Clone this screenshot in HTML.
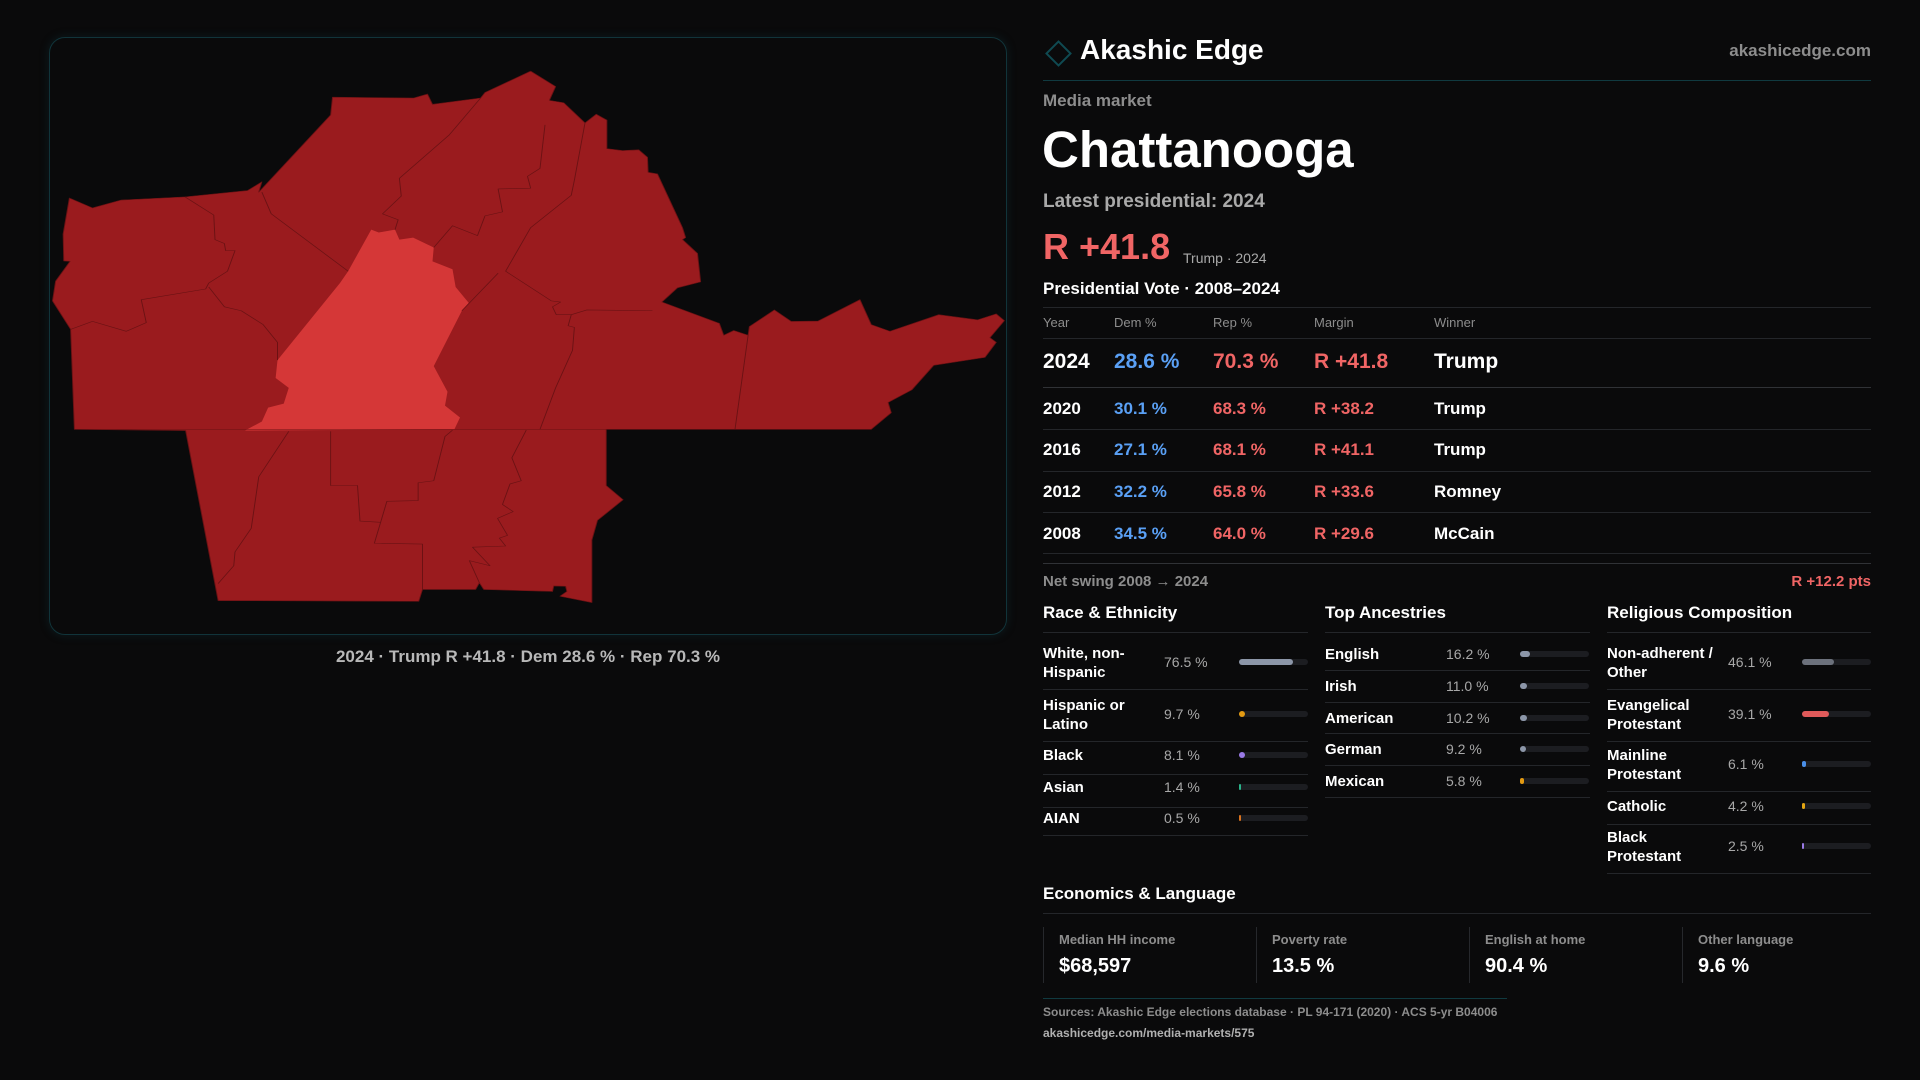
<!DOCTYPE html>
<html><head><meta charset="utf-8">
<style>
*{margin:0;padding:0;box-sizing:border-box}
body{width:1920px;height:1080px;background:#0a0a0b;font-family:"Liberation Sans",sans-serif;color:#fff;position:relative;overflow:hidden}
.a{position:absolute;white-space:nowrap;line-height:1}
.panel{position:absolute;left:49px;top:37px;width:958px;height:598px;border:1.5px solid #11343a;border-radius:16px;box-shadow:0 0 10px rgba(20,80,90,.25)}
.hl{position:absolute;height:1px;background:#24262a}
.g{color:#8d8d8d}
.red{color:#f06565}.blue{color:#5aa0f5}
.bar{position:absolute;height:6px;border-radius:3px;background:#1c1d21}
.bar i{position:absolute;left:0;top:0;height:6px;border-radius:3px}
.lbl{position:absolute;font-size:15px;font-weight:bold;line-height:19px}
.val{position:absolute;font-size:14px;color:#a8a8a8;line-height:1}
.vb{position:absolute;width:1px;background:#26282c}
</style></head><body>
<div class="panel"></div>
<svg style="position:absolute;left:40px;top:30px" width="980" height="620" viewBox="0 0 1568 1568" preserveAspectRatio="none">
<g stroke="#6a1214" stroke-width="1.5" stroke-linejoin="round" vector-effect="non-scaling-stroke">
<polygon fill="#9a1b1e" points="468,170 598,172 620,162 628,188 705,172 712,158 785,104 825,143 815,178 838,184 872,235 890,213 907,228 907,300 932,305 958,303 972,322 973,360 988,364 1028,500 1033,525 1028,530 1052,565 1057,637 1020,652 995,688 1087,742 1094,772 1110,760 1133,772 1135,750 1175,708 1202,737 1245,736 1312,682 1330,745 1360,762 1438,720 1500,733 1530,718 1543,735 1520,778 1530,790 1512,828 1430,848 1395,910 1357,942 1362,968 1330,1010 906,1010 906,1152 933,1188 892,1240 883,1290 883,1448 832,1432 843,1420 841,1407 822,1406 820,1420 710,1415 703,1398 697,1415 612,1415 606,1445 285,1443 233,1013 55,1010 49,757 20,685 25,635 48,585 38,584 37,516 47,425 84,450 130,430 232,422 332,406 355,384 350,410 465,215"/>
<polygon fill="#d53737" stroke="none" points="530,505 542,512 568,505 575,530 597,525 630,550 628,585 660,605 665,650 678,675 686,690 675,710 630,850 652,915 648,950 672,980 663,1010 328,1013 355,990 365,955 390,945 398,905 377,880 380,835 480,640 493,610"/>
<g fill="none">
<polyline points="232,422 278,468 280,530 295,540 297,558 312,558 300,610 270,640 265,655 162,682 170,740 138,762 84,737 49,757"/>
<polyline points="270,650 295,700 322,710 357,745 380,790 380,835"/>
<polyline points="355,410 370,465 493,610"/>
<polyline points="705,172 655,265 575,375 578,420 548,465 573,480 568,505"/>
<polyline points="808,240 800,350 780,370 785,400 733,402 740,460 712,470 700,520 660,495 630,550"/>
<polyline points="872,235 855,380 850,418 785,500 745,610 818,685 833,688 820,700 826,720 850,720 845,748 855,752 852,810 825,905 800,1010"/>
<polyline points="733,615 675,710"/>
<polyline points="980,710 875,708 850,720"/>
<polyline points="1133,772 1112,1010"/>
<polyline points="55,1010 1330,1010"/>
<polyline points="398,1015 350,1130 338,1260 312,1320 310,1355 285,1400"/>
<polyline points="465,1015 465,1152 508,1152 512,1242 545,1245 535,1298 612,1300 612,1415"/>
<polyline points="660,1012 648,1028 630,1140 605,1145 605,1190 555,1192 545,1245"/>
<polyline points="778,1012 755,1082 770,1140 752,1148 740,1200 757,1218 732,1235 748,1278 735,1285 745,1305 692,1308 720,1355 687,1342 703,1398"/>
</g></g>
</svg>
<div class="a" style="left:528px;top:648px;transform:translateX(-50%);font-size:17px;color:#b8b8b8;font-weight:bold">2024 · Trump R +41.8 · Dem 28.6 % · Rep 70.3 %</div>

<div class="a" style="left:1049px;top:44px;width:19px;height:19px;border:2px solid #0f4a52;transform:rotate(45deg)"></div>
<div class="a" style="left:1080px;top:36px;font-size:28px;font-weight:bold">Akashic Edge</div>
<div class="a g" style="right:49px;top:42px;font-size:17px;font-weight:bold">akashicedge.com</div>
<div class="hl" style="left:1043px;top:80px;width:828px;background:#103a40"></div>
<div class="a g" style="left:1043px;top:92px;font-size:17px;font-weight:bold">Media market</div>
<div class="a" style="left:1042px;top:124px;font-size:51px;font-weight:bold">Chattanooga</div>
<div class="a" style="left:1043px;top:192px;font-size:19px;font-weight:bold;color:#a9a9a9">Latest presidential: 2024</div>
<div class="a red" style="left:1043px;top:229px;font-size:36px;font-weight:bold">R +41.8</div>
<div class="a" style="left:1183px;top:251px;font-size:14px;color:#a9a9a9">Trump · 2024</div>
<div class="a" style="left:1043px;top:280px;font-size:17px;font-weight:bold">Presidential Vote · 2008–2024</div>
<div class="hl" style="left:1043px;top:307px;width:828px"></div>
<div class="a g" style="left:1043px;top:316px;font-size:13px">Year</div>
<div class="a g" style="left:1114px;top:316px;font-size:13px">Dem %</div>
<div class="a g" style="left:1213px;top:316px;font-size:13px">Rep %</div>
<div class="a g" style="left:1314px;top:316px;font-size:13px">Margin</div>
<div class="a g" style="left:1434px;top:316px;font-size:13px">Winner</div>
<div class="hl" style="left:1043px;top:338px;width:828px"></div>

<div class="a" style="left:1043px;top:351px;font-size:21px;font-weight:bold">2024</div>
<div class="a blue" style="left:1114px;top:351px;font-size:21px;font-weight:bold">28.6 %</div>
<div class="a red" style="left:1213px;top:351px;font-size:21px;font-weight:bold">70.3 %</div>
<div class="a red" style="left:1314px;top:351px;font-size:21px;font-weight:bold">R +41.8</div>
<div class="a" style="left:1434px;top:351px;font-size:21px;font-weight:bold">Trump</div>
<div class="hl" style="left:1043px;top:387px;width:828px;background:#303236"></div>

<div class="a" style="left:1043px;top:400px;font-size:17px;font-weight:bold">2020</div>
<div class="a blue" style="left:1114px;top:400px;font-size:17px;font-weight:bold">30.1 %</div>
<div class="a red" style="left:1213px;top:400px;font-size:17px;font-weight:bold">68.3 %</div>
<div class="a red" style="left:1314px;top:400px;font-size:17px;font-weight:bold">R +38.2</div>
<div class="a" style="left:1434px;top:400px;font-size:17px;font-weight:bold">Trump</div>
<div class="hl" style="left:1043px;top:429px;width:828px"></div>

<div class="a" style="left:1043px;top:441px;font-size:17px;font-weight:bold">2016</div>
<div class="a blue" style="left:1114px;top:441px;font-size:17px;font-weight:bold">27.1 %</div>
<div class="a red" style="left:1213px;top:441px;font-size:17px;font-weight:bold">68.1 %</div>
<div class="a red" style="left:1314px;top:441px;font-size:17px;font-weight:bold">R +41.1</div>
<div class="a" style="left:1434px;top:441px;font-size:17px;font-weight:bold">Trump</div>
<div class="hl" style="left:1043px;top:471px;width:828px"></div>

<div class="a" style="left:1043px;top:483px;font-size:17px;font-weight:bold">2012</div>
<div class="a blue" style="left:1114px;top:483px;font-size:17px;font-weight:bold">32.2 %</div>
<div class="a red" style="left:1213px;top:483px;font-size:17px;font-weight:bold">65.8 %</div>
<div class="a red" style="left:1314px;top:483px;font-size:17px;font-weight:bold">R +33.6</div>
<div class="a" style="left:1434px;top:483px;font-size:17px;font-weight:bold">Romney</div>
<div class="hl" style="left:1043px;top:512px;width:828px"></div>

<div class="a" style="left:1043px;top:525px;font-size:17px;font-weight:bold">2008</div>
<div class="a blue" style="left:1114px;top:525px;font-size:17px;font-weight:bold">34.5 %</div>
<div class="a red" style="left:1213px;top:525px;font-size:17px;font-weight:bold">64.0 %</div>
<div class="a red" style="left:1314px;top:525px;font-size:17px;font-weight:bold">R +29.6</div>
<div class="a" style="left:1434px;top:525px;font-size:17px;font-weight:bold">McCain</div>
<div class="hl" style="left:1043px;top:553px;width:828px"></div>
<div class="hl" style="left:1043px;top:563px;width:828px;background:#303236"></div>

<div class="a g" style="left:1043px;top:574px;font-size:15px;font-weight:bold">Net swing 2008 → 2024</div>
<div class="a red" style="right:49px;top:574px;font-size:15px;font-weight:bold">R +12.2 pts</div>

<div class="a" style="left:1043px;top:604px;font-size:17px;font-weight:bold">Race &amp; Ethnicity</div>
<div class="a" style="left:1325px;top:604px;font-size:17px;font-weight:bold">Top Ancestries</div>
<div class="a" style="left:1607px;top:604px;font-size:17px;font-weight:bold">Religious Composition</div>
<div class="hl" style="left:1043px;top:632px;width:265px"></div>
<div class="hl" style="left:1325px;top:632px;width:265px"></div>
<div class="hl" style="left:1607px;top:632px;width:264px"></div>

<div class="lbl" style="left:1043px;top:644px">White, non-<br>Hispanic</div><div class="val" style="left:1164px;top:655px">76.5 %</div><div class="bar" style="left:1239px;top:659px;width:69px"><i style="width:54px;background:#8c96a8"></i></div>
<div class="hl" style="left:1043px;top:689px;width:265px"></div>
<div class="lbl" style="left:1043px;top:696px">Hispanic or<br>Latino</div><div class="val" style="left:1164px;top:707px">9.7 %</div><div class="bar" style="left:1239px;top:711px;width:69px"><i style="width:6px;background:#e39a12"></i></div>
<div class="hl" style="left:1043px;top:741px;width:265px"></div>
<div class="lbl" style="left:1043px;top:746px">Black</div><div class="val" style="left:1164px;top:748px">8.1 %</div><div class="bar" style="left:1239px;top:752px;width:69px"><i style="width:6px;background:#9a7ae6"></i></div>
<div class="hl" style="left:1043px;top:774px;width:265px"></div>
<div class="lbl" style="left:1043px;top:778px">Asian</div><div class="val" style="left:1164px;top:780px">1.4 %</div><div class="bar" style="left:1239px;top:784px;width:69px"><i style="width:2px;background:#2ab38a"></i></div>
<div class="hl" style="left:1043px;top:807px;width:265px"></div>
<div class="lbl" style="left:1043px;top:809px">AIAN</div><div class="val" style="left:1164px;top:811px">0.5 %</div><div class="bar" style="left:1239px;top:815px;width:69px"><i style="width:2px;background:#d9721e"></i></div>
<div class="hl" style="left:1043px;top:835px;width:265px"></div>

<div class="lbl" style="left:1325px;top:645px">English</div><div class="val" style="left:1446px;top:647px">16.2 %</div><div class="bar" style="left:1520px;top:651px;width:69px"><i style="width:10px;background:#8c96a8"></i></div>
<div class="hl" style="left:1325px;top:670px;width:265px"></div>
<div class="lbl" style="left:1325px;top:677px">Irish</div><div class="val" style="left:1446px;top:679px">11.0 %</div><div class="bar" style="left:1520px;top:683px;width:69px"><i style="width:7px;background:#8c96a8"></i></div>
<div class="hl" style="left:1325px;top:702px;width:265px"></div>
<div class="lbl" style="left:1325px;top:709px">American</div><div class="val" style="left:1446px;top:711px">10.2 %</div><div class="bar" style="left:1520px;top:715px;width:69px"><i style="width:7px;background:#8c96a8"></i></div>
<div class="hl" style="left:1325px;top:733px;width:265px"></div>
<div class="lbl" style="left:1325px;top:740px">German</div><div class="val" style="left:1446px;top:742px">9.2 %</div><div class="bar" style="left:1520px;top:746px;width:69px"><i style="width:6px;background:#8c96a8"></i></div>
<div class="hl" style="left:1325px;top:765px;width:265px"></div>
<div class="lbl" style="left:1325px;top:772px">Mexican</div><div class="val" style="left:1446px;top:774px">5.8 %</div><div class="bar" style="left:1520px;top:778px;width:69px"><i style="width:4px;background:#e39a12"></i></div>
<div class="hl" style="left:1325px;top:797px;width:265px"></div>

<div class="lbl" style="left:1607px;top:644px">Non-adherent /<br>Other</div><div class="val" style="left:1728px;top:655px">46.1 %</div><div class="bar" style="left:1802px;top:659px;width:69px"><i style="width:32px;background:#6c717c"></i></div>
<div class="hl" style="left:1607px;top:689px;width:264px"></div>
<div class="lbl" style="left:1607px;top:696px">Evangelical<br>Protestant</div><div class="val" style="left:1728px;top:707px">39.1 %</div><div class="bar" style="left:1802px;top:711px;width:69px"><i style="width:27px;background:#e05a5a"></i></div>
<div class="hl" style="left:1607px;top:741px;width:264px"></div>
<div class="lbl" style="left:1607px;top:746px">Mainline<br>Protestant</div><div class="val" style="left:1728px;top:757px">6.1 %</div><div class="bar" style="left:1802px;top:761px;width:69px"><i style="width:4px;background:#4a8fe8"></i></div>
<div class="hl" style="left:1607px;top:791px;width:264px"></div>
<div class="lbl" style="left:1607px;top:797px">Catholic</div><div class="val" style="left:1728px;top:799px">4.2 %</div><div class="bar" style="left:1802px;top:803px;width:69px"><i style="width:3px;background:#e3a512"></i></div>
<div class="hl" style="left:1607px;top:824px;width:264px"></div>
<div class="lbl" style="left:1607px;top:828px">Black<br>Protestant</div><div class="val" style="left:1728px;top:839px">2.5 %</div><div class="bar" style="left:1802px;top:843px;width:69px"><i style="width:2px;background:#9a7ae6"></i></div>
<div class="hl" style="left:1607px;top:873px;width:264px"></div>

<div class="a" style="left:1043px;top:885px;font-size:17px;font-weight:bold">Economics &amp; Language</div>
<div class="hl" style="left:1043px;top:913px;width:828px"></div>
<div class="vb" style="left:1043px;top:927px;height:56px"></div>
<div class="vb" style="left:1256px;top:927px;height:56px"></div>
<div class="vb" style="left:1469px;top:927px;height:56px"></div>
<div class="vb" style="left:1682px;top:927px;height:56px"></div>
<div class="a g" style="left:1059px;top:933px;font-size:13px;font-weight:bold">Median HH income</div>
<div class="a" style="left:1059px;top:956px;font-size:20px;font-weight:bold">$68,597</div>
<div class="a g" style="left:1272px;top:933px;font-size:13px;font-weight:bold">Poverty rate</div>
<div class="a" style="left:1272px;top:956px;font-size:20px;font-weight:bold">13.5 %</div>
<div class="a g" style="left:1485px;top:933px;font-size:13px;font-weight:bold">English at home</div>
<div class="a" style="left:1485px;top:956px;font-size:20px;font-weight:bold">90.4 %</div>
<div class="a g" style="left:1698px;top:933px;font-size:13px;font-weight:bold">Other language</div>
<div class="a" style="left:1698px;top:956px;font-size:20px;font-weight:bold">9.6 %</div>

<div class="hl" style="left:1043px;top:998px;width:464px;background:#103a40"></div>
<div class="a g" style="left:1043px;top:1006px;font-size:12px;font-weight:bold">Sources: Akashic Edge elections database · PL 94-171 (2020) · ACS 5-yr B04006</div>
<div class="a" style="left:1043px;top:1027px;font-size:12px;font-weight:bold;color:#b0b0b0">akashicedge.com/media-markets/575</div>
</body></html>
